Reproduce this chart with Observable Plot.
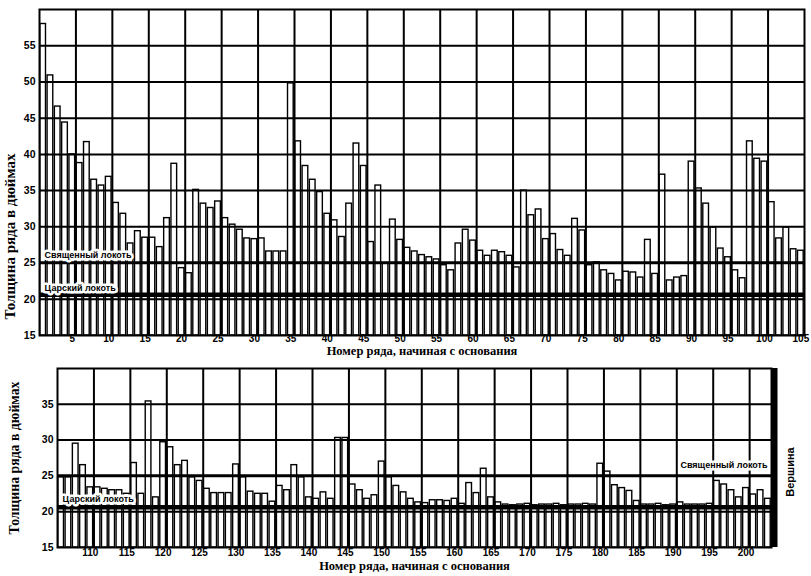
<!DOCTYPE html>
<html><head><meta charset="utf-8">
<script src="https://cdn.jsdelivr.net/npm/d3@7"></script>
<script src="https://cdn.jsdelivr.net/npm/@observablehq/plot@0.6"></script>
<style>
body{margin:0;background:#fff;}
#chart svg{display:block;}
</style></head><body><div id="chart"></div>
<script>
// Course thickness (inches), courses 1–105 (upper panel)
const lowerCourses = [
  58.0, 50.9, 46.6, 44.4, 40.0, 38.8, 41.7, 36.5, 35.7, 36.9,
  33.3, 31.8, 27.7, 29.4, 28.5, 28.5, 27.2, 31.2, 38.7, 24.3,
  23.6, 35.1, 33.2, 32.6, 33.5, 31.2, 30.3, 29.6, 28.4, 28.3,
  28.4, 26.6, 26.6, 26.6, 49.8, 41.8, 38.4, 36.5, 34.8, 31.8,
  30.9, 28.6, 33.2, 41.5, 38.4, 27.9, 35.7, 25.0, 31.0, 28.2,
  27.1, 26.6, 26.1, 25.8, 25.5, 24.7, 24.0, 27.7, 29.6, 28.1,
  26.7, 26.0, 26.7, 26.5, 26.0, 24.4, 35.0, 31.6, 32.4, 28.3,
  29.0, 26.8, 26.0, 31.1, 29.5, 24.7, 25.1, 24.0, 23.5, 22.6,
  23.8, 23.7, 23.0, 28.2, 23.5, 37.2, 22.6, 23.0, 23.2, 39.0,
  35.3, 33.2, 29.9, 27.0, 25.8, 24.0, 22.9, 41.8, 39.4, 39.0,
  33.4, 28.4, 29.9, 26.9, 26.7
];
// Course thickness (inches), courses 106–203 (lower panel)
const upperCourses = [
  24.8, 24.8, 29.5, 26.5, 23.4, 23.4, 23.2, 23.0, 23.0, 22.5,
  26.8, 22.5, 35.4, 22.0, 29.7, 29.0, 26.5, 27.1, 24.8, 24.3,
  23.2, 22.6, 22.6, 22.6, 26.6, 24.8, 22.8, 22.5, 22.5, 21.4,
  23.6, 23.0, 26.5, 24.8, 22.0, 21.8, 22.7, 21.8, 30.3, 30.3,
  23.8, 23.0, 21.8, 22.3, 27.0, 24.8, 23.6, 22.7, 21.8, 21.3,
  21.2, 21.6, 21.6, 21.5, 21.8, 21.1, 24.0, 22.6, 26.0, 22.0,
  21.3, 21.0, 20.9, 21.0, 21.1, 20.9, 21.0, 21.0, 21.1, 20.9,
  21.0, 21.0, 21.1, 21.0, 26.7, 25.6, 23.7, 23.3, 22.9, 21.5,
  21.0, 21.0, 21.1, 20.9, 21.0, 21.3, 21.0, 21.0, 21.0, 21.1,
  24.3, 23.8, 23.0, 22.0, 23.3, 22.4, 23.0, 21.8
];
const firstUpperCourse = 106;
const lastCourse = 203;

const sacredCubit = 25.025;
const royalCubit = 20.62;

const xTicksTop = [5,10,15,20,25,30,35,40,45,50,55,60,65,70,75,80,85,90,95,100,105];
const xTicksBottom = [110,115,120,125,130,135,140,145,150,155,160,165,170,175,180,185,190,195,200];
const yTicksTop = [15,20,25,30,35,40,45,50,55];
const yTicksBottom = [15,20,25,30,35];
const yGridTop = [20,25,30,35,40,45,50,55];
const yGridBottom = [20,25,30,35];
const xGridTop = [5.5,10.5,15.5,20.5,25.5,30.5,35.5,40.5,45.5,50.5,55.5,60.5,65.5,70.5,75.5,80.5,85.5,90.5,95.5,100.5];
const xGridBottom = [110.5,115.5,120.5,125.5,130.5,135.5,140.5,145.5,150.5,155.5,160.5,165.5,170.5,175.5,180.5,185.5,190.5,195.5,200.5];

const xTitle = "Номер ряда, начиная с основания";
const yTitle = "Толщина ряда в дюймах";
const sacredLabel = "Священный локоть";
const royalLabel = "Царский локоть";
const summitLabel = "Вершина";

const topData = lowerCourses.map((v, i) => ({course: i + 1, v}));
const bottomData = upperCourses.map((v, i) => ({course: firstUpperCourse + i, v}));

const tickFont = "Liberation Sans, Arial, sans-serif";
const titleFont = "Liberation Serif, Times New Roman, serif";

function panel(data, opts) {
  return Plot.plot({
    width: 811, height: opts.height,
    marginLeft: opts.ml, marginRight: opts.mr, marginTop: opts.mt, marginBottom: opts.mb,
    x: {domain: opts.xDomain, axis: null},
    y: {domain: opts.yDomain, axis: null},
    style: {background: "white", color: "black", fontFamily: tickFont, overflow: "visible"},
    marks: [
      Plot.rect(data, {x1: d => d.course - 0.5, x2: d => d.course + 0.5, y1: opts.yDomain[0], y2: "v",
        fill: "white", stroke: "black", strokeWidth: 1.4, insetLeft: 0.8, insetRight: 0.8}),
      Plot.ruleY(opts.yGrid, {stroke: "black", strokeWidth: 2}),
      Plot.ruleX(opts.xGrid, {stroke: "black", strokeWidth: 2}),
      Plot.ruleY([sacredCubit], {stroke: "black", strokeWidth: 3}),
      Plot.ruleY([royalCubit], {stroke: "black", strokeWidth: 4.5}),
      Plot.frame({stroke: "black", strokeWidth: 2}),
      ...opts.extra,
      Plot.text(opts.xTicks, {x: d => d, frameAnchor: "bottom", dy: opts.tickDy, fontSize: 10, fontWeight: "bold", fill: "black"}),
      Plot.text(opts.yTicks, {y: d => d, frameAnchor: "left", dx: -4, textAnchor: "end", fontSize: 10.5, fontWeight: "bold", fill: "black"}),
      Plot.text([xTitle], {frameAnchor: "bottom", textAnchor: "middle", dy: opts.titleDy, fontSize: 12.5, fontWeight: "bold", fontFamily: titleFont, fill: "black"}),
      Plot.text([yTitle], {frameAnchor: "left", textAnchor: "middle", rotate: -90, dx: opts.yTitleDx, dy: opts.yTitleDy, fontSize: opts.yTitleSize, fontWeight: "bold", fontFamily: titleFont, fill: "black"})
    ]
  });
}

const labelStyle = {fontSize: 9, fontWeight: "bold", fill: "black", stroke: "white", strokeWidth: 5, paintOrder: "stroke"};

const topChart = panel(topData, {
  height: 362, ml: 39, mr: 7, mt: 9, mb: 27,
  xDomain: [0.5, 105.5], yDomain: [15, 60],
  yGrid: yGridTop, xGrid: xGridTop, xTicks: xTicksTop, yTicks: yTicksTop,
  tickDy: 6, titleDy: 19, yTitleDx: -29, yTitleDy: 64, yTitleSize: 15,
  extra: [
    Plot.text([sacredCubit], {y: d => d, text: () => sacredLabel, frameAnchor: "left", textAnchor: "start", dx: 5, dy: -8, ...labelStyle}),
    Plot.text([royalCubit], {y: d => d, text: () => royalLabel, frameAnchor: "left", textAnchor: "start", dx: 5, dy: -7, ...labelStyle})
  ]
});

const bottomChart = panel(bottomData, {
  height: 214, ml: 57, mr: 40, mt: 6, mb: 29,
  xDomain: [105.5, lastCourse + 0.5], yDomain: [15, 40],
  yGrid: yGridBottom, xGrid: xGridBottom, xTicks: xTicksBottom, yTicks: yTicksBottom,
  tickDy: 8, titleDy: 22, yTitleDx: -43, yTitleDy: 0, yTitleSize: 13.8,
  extra: [
    Plot.ruleX([lastCourse + 0.5], {stroke: "black", strokeWidth: 6, dx: 3}),
    Plot.text([sacredCubit], {y: d => d, text: () => sacredLabel, frameAnchor: "right", textAnchor: "end", dx: -4, dy: -11, ...labelStyle}),
    Plot.text([royalCubit], {y: d => d, text: () => royalLabel, frameAnchor: "left", textAnchor: "start", dx: 5, dy: -8, ...labelStyle}),
    Plot.text([summitLabel], {frameAnchor: "right", textAnchor: "middle", rotate: -90, dx: 19, dy: 14, fontSize: 11, fontWeight: "bold", fill: "black"})
  ]
});

const root = document.getElementById("chart");
root.appendChild(topChart);
root.appendChild(bottomChart);
</script></body></html>
